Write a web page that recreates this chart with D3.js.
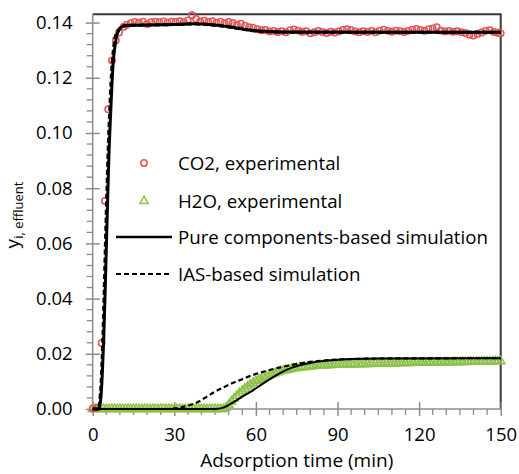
<!DOCTYPE html>
<html>
<head>
<meta charset="utf-8">
<script src="https://cdn.jsdelivr.net/npm/d3@7"></script>
<style>
  body { margin: 0; background: #fff; }
  svg { display: block; font-family: "Open Sans", sans-serif; }
</style>
</head>
<body>
<svg id="chart" width="519" height="474"></svg>
<script>
// CO2 experimental (time in min, mole fraction)
var co2Time = [0, 1.6, 3.3, 4.5, 5.7, 7.1, 8.5, 9.7, 11.4,
  12.5, 14, 15.5, 17, 18.5, 20, 21.5, 23, 24.5, 26, 27.5, 29, 30.5, 32, 33.5, 35, 36.5, 38, 39.5,
  41, 42.5, 44, 45.5, 47, 48.5, 50, 51.5, 53, 54.5, 56, 57.5, 59, 60.5, 62, 63.5, 65, 66.5, 68, 69.5,
  71, 72.5, 74, 75.5, 77, 78.5, 80, 81.5, 83, 84.5, 86, 87.5, 89, 90.5, 92, 93.5, 95, 96.5, 98, 99.5,
  101, 102.5, 104, 105.5, 107, 108.5, 110, 111.5, 113, 114.5, 116, 117.5, 119, 120.5, 122, 123.5, 125, 126.5, 128, 129.5,
  131, 132.5, 134, 135.5, 137, 138.5, 140, 141.5, 143, 144.5, 146, 147.5, 149, 150];
var co2Exp = [0.0002, 0.0005, 0.0239, 0.0754, 0.1086, 0.1263, 0.1336, 0.1364, 0.1385,
  0.1392, 0.1398, 0.1402, 0.1400, 0.1403, 0.1395, 0.1401, 0.1403, 0.1401, 0.1404, 0.1400, 0.1403, 0.1402, 0.1405, 0.1401, 0.1408, 0.1427, 0.1413, 0.1404,
  0.1407, 0.1402, 0.1405, 0.1400, 0.1403, 0.1398, 0.1402, 0.1399, 0.1392, 0.1396, 0.1389, 0.1383, 0.1381,
  0.1376, 0.1372, 0.1373, 0.1368, 0.1370, 0.1366, 0.1369,
  0.1365, 0.1372, 0.1375, 0.1371, 0.1367, 0.1369, 0.1361, 0.1365, 0.1370, 0.1366, 0.1362, 0.1367, 0.1364, 0.1368, 0.1373, 0.1376, 0.1372, 0.1368, 0.1365, 0.1369,
  0.1366, 0.1370, 0.1365, 0.1371, 0.1374, 0.1370, 0.1367, 0.1371, 0.1369, 0.1366, 0.1370, 0.1374, 0.1377, 0.1373, 0.1370, 0.1376, 0.1379, 0.1383, 0.1371, 0.1368,
  0.1370, 0.1367, 0.1369, 0.1365, 0.1362, 0.1356, 0.1353, 0.1359, 0.1364, 0.1370, 0.1372, 0.1366, 0.1363, 0.1361];

// H2O experimental, one reading per minute (0..150)
var h2oExp = [
  0, 0, 0, 0, 0, 0, 0, 0, 0, 0, 0, 0, 0, 0, 0, 0, 0, 0, 0, 0, 0, 0, 0, 0, 0,
  0, 0, 0, 0, 0, 0, 0, 0, 0, 0, 0, 0, 0, 0, 0, 0, 0, 0, 0, 0, 0, 0, 0, 0,
  0.0005, 0.0015, 0.0027, 0.0038, 0.0048, 0.0058, 0.0066, 0.0074, 0.0082, 0.0089, 0.0095,
  0.0101, 0.0106, 0.0110, 0.0114, 0.0118, 0.0122, 0.0126, 0.0129, 0.0133, 0.0136,
  0.0139, 0.0141, 0.0143, 0.0145, 0.0147, 0.0148, 0.0150, 0.0151, 0.0152, 0.0153,
  0.0154, 0.0155, 0.0156, 0.0157, 0.0157, 0.0158, 0.0158, 0.0159, 0.0159, 0.0160,
  0.0160, 0.0160, 0.0161, 0.0161, 0.0161, 0.0162, 0.0162, 0.0162, 0.0162, 0.0163, 0.0163,
  0.0163, 0.0163, 0.0164, 0.0164, 0.0164, 0.0164, 0.0164, 0.0165, 0.0165, 0.0165,
  0.0165, 0.0165, 0.0166, 0.0166, 0.0166, 0.0166, 0.0166, 0.0167, 0.0167, 0.0167,
  0.0167, 0.0167, 0.0168, 0.0168, 0.0168, 0.0168, 0.0168, 0.0169, 0.0169, 0.0169,
  0.0169, 0.0169, 0.0170, 0.0170, 0.0170, 0.0170, 0.0170, 0.0171, 0.0171, 0.0171,
  0.0171, 0.0171, 0.0172, 0.0172, 0.0172, 0.0172, 0.0172, 0.0173, 0.0173, 0.0173];
var h2oTime = h2oExp.map(function(d, i) { return i; });

// simulations, read as [time, value] knots
var co2Pure = [[0, 0], [2.3, 0], [3, 0.004], [3.5, 0.012], [4, 0.024], [4.5, 0.04], [5, 0.058], [5.5, 0.076],
  [6, 0.093], [6.5, 0.105], [7, 0.116], [7.5, 0.125], [8, 0.130], [8.5, 0.1335], [9, 0.1358], [10, 0.1378],
  [11, 0.1386], [13, 0.1390], [20, 0.1391], [30, 0.1393], [37, 0.1396], [45, 0.1391], [50, 0.1385],
  [55, 0.1377], [60, 0.1370], [70, 0.1366], [150, 0.1365]];
var co2Ias = [[0, 0], [2.0, 0], [2.7, 0.004], [3.2, 0.012], [3.7, 0.025], [4.2, 0.042], [4.7, 0.061], [5.2, 0.079],
  [5.7, 0.095], [6.2, 0.107], [6.7, 0.118], [7.2, 0.126], [7.7, 0.131], [8.2, 0.1345], [9, 0.1365], [10, 0.138],
  [11, 0.1387], [13, 0.1390], [20, 0.1391], [30, 0.1393], [37, 0.1395], [45, 0.1390], [50, 0.1384],
  [55, 0.1376], [60, 0.1369], [70, 0.1365], [150, 0.1365]];
var h2oPure = [[0, 0], [45, 0], [48, 0.0005], [51, 0.0020], [55, 0.0045], [58, 0.0062], [62, 0.0088],
  [65, 0.0107], [69, 0.0131], [73, 0.0149], [78, 0.0163], [83, 0.0172], [88, 0.0177], [95, 0.0181],
  [105, 0.0183], [150, 0.0184]];
var h2oIas = [[0, 0], [28, 0], [31, 0.0003], [35, 0.0012], [39, 0.0027], [42, 0.0045], [45, 0.0063],
  [48, 0.0078], [51, 0.0092], [55, 0.0108], [58, 0.0120], [62, 0.0133], [66, 0.0144], [70, 0.0153],
  [76, 0.0165], [82, 0.0173], [88, 0.0178], [95, 0.0181], [105, 0.0183], [150, 0.0184]];

var xTicks = [0, 30, 60, 90, 120, 150];
var yTicks = [0, 0.02, 0.04, 0.06, 0.08, 0.10, 0.12, 0.14];
var legendLabels = ["CO2, experimental", "H2O, experimental", "Pure components-based simulation", "IAS-based simulation"];

var red = "#e05555", green = "#8dc149", axisGrey = "#8c8c8c";

var svg = d3.select("#chart");
var pLeft = 92.7, pRight = 500.7, pTop = 14.3, pBottom = 409;

var x = d3.scaleLinear().domain([0, 150]).range([pLeft, pRight]);
var y = d3.scaleLinear().domain([0, 0.143]).range([pBottom, pTop]);

// frame (top and right)
svg.append("path")
    .attr("d", "M" + pLeft + "," + pTop + "H" + pRight + "V" + pBottom)
    .attr("fill", "none").attr("stroke", "#3a3a3a").attr("stroke-width", 2);

// minor ticks
svg.append("g").selectAll("line")
    .data(d3.range(0, 151, 5).filter(function(d) { return d % 30 != 0; }))
    .enter().append("line")
    .attr("x1", function(d) { return x(d); }).attr("x2", function(d) { return x(d); })
    .attr("y1", pBottom).attr("y2", pBottom + 6)
    .attr("stroke", axisGrey).attr("stroke-width", 1.3);
svg.append("g").selectAll("line")
    .data(d3.range(0, 36).map(function(i) { return i * 0.004; }).filter(function(d, i) { return i % 5 != 0; }))
    .enter().append("line")
    .attr("y1", function(d) { return y(d); }).attr("y2", function(d) { return y(d); })
    .attr("x1", pLeft - 6).attr("x2", pLeft)
    .attr("stroke", axisGrey).attr("stroke-width", 1.3);

// axes
var xAxis = svg.append("g")
    .attr("transform", "translate(0," + pBottom + ")")
    .call(d3.axisBottom(x).tickValues(xTicks).tickSize(7).tickPadding(12).tickFormat(d3.format("d")));
xAxis.selectAll(".tick line").attr("y1", -7);
var yAxis = svg.append("g")
    .attr("transform", "translate(" + pLeft + ",0)")
    .call(d3.axisLeft(y).tickValues(yTicks).tickSize(7).tickPadding(13).tickFormat(d3.format(".2f")));
yAxis.selectAll(".tick line").attr("x1", 7);
[xAxis, yAxis].forEach(function(a) {
    a.select(".domain").attr("stroke", axisGrey).attr("stroke-width", 1.5);
    a.selectAll(".tick line").attr("stroke", axisGrey).attr("stroke-width", 1.5);
    a.selectAll("text").attr("fill", "#000").style("font-size", "18.5px").style("font-family", "Open Sans");
});
yAxis.select(".domain").attr("d", "M0," + pBottom + "V" + pTop);
xAxis.select(".domain").attr("d", "M" + pLeft + ",0H" + pRight);

// axis titles
svg.append("text")
    .attr("x", (pLeft + pRight) / 2).attr("y", 467)
    .attr("text-anchor", "middle").style("font-size", "19px")
    .text("Adsorption time (min)");
var yt = svg.append("text")
    .attr("transform", "translate(19,215) rotate(-90)")
    .attr("text-anchor", "middle").style("font-size", "19px");
yt.append("tspan").text("y");
yt.append("tspan").attr("dy", 4).style("font-size", "13px").text("i, effluent");

// experimental markers
var tri = d3.symbol().type(d3.symbolTriangle).size(30);
svg.append("g").selectAll("path")
    .data(h2oExp)
    .enter().append("path")
    .attr("d", tri)
    .attr("transform", function(d, i) { return "translate(" + x(h2oTime[i]) + "," + y(d) + ")"; })
    .attr("fill", "none").attr("stroke", green).attr("stroke-width", 1.5);
svg.append("g").selectAll("circle")
    .data(co2Exp)
    .enter().append("circle")
    .attr("cx", function(d, i) { return x(co2Time[i]); })
    .attr("cy", function(d) { return y(d); })
    .attr("r", 3.2)
    .attr("fill", "none").attr("stroke", red).attr("stroke-width", 1.5);

// simulation lines
var line = d3.line()
    .x(function(d) { return x(d[0]); })
    .y(function(d) { return y(d[1]); })
    .curve(d3.curveMonotoneX);
[co2Pure, h2oPure].forEach(function(s, i) {
    svg.append("path").attr("d", line(s))
        .attr("fill", "none").attr("stroke", "#000").attr("stroke-width", i == 0 ? 3 : 2);
});
[co2Ias, h2oIas].forEach(function(s, i) {
    svg.append("path").attr("d", line(s))
        .attr("fill", "none").attr("stroke", "#000").attr("stroke-width", i == 0 ? 3 : 2.2)
        .attr("stroke-dasharray", "5,3");
});

// legend
var lg = svg.append("g");
var ly = [163, 201, 237, 274];
lg.append("circle").attr("cx", 144).attr("cy", ly[0]).attr("r", 3.2)
    .attr("fill", "none").attr("stroke", red).attr("stroke-width", 1.5);
lg.append("path").attr("d", tri).attr("transform", "translate(144," + ly[1] + ")")
    .attr("fill", "none").attr("stroke", green).attr("stroke-width", 1.5);
lg.append("line").attr("x1", 116).attr("x2", 172).attr("y1", ly[2]).attr("y2", ly[2])
    .attr("stroke", "#000").attr("stroke-width", 2.5);
lg.append("line").attr("x1", 116).attr("x2", 172).attr("y1", ly[3]).attr("y2", ly[3])
    .attr("stroke", "#000").attr("stroke-width", 2.2).attr("stroke-dasharray", "5,3");
lg.selectAll("text")
    .data(legendLabels)
    .enter().append("text")
    .attr("x", 178).attr("y", function(d, i) { return ly[i]; })
    .attr("dy", "0.35em")
    .style("font-size", "18.7px")
    .text(function(d) { return d; });
</script>
</body>
</html>
